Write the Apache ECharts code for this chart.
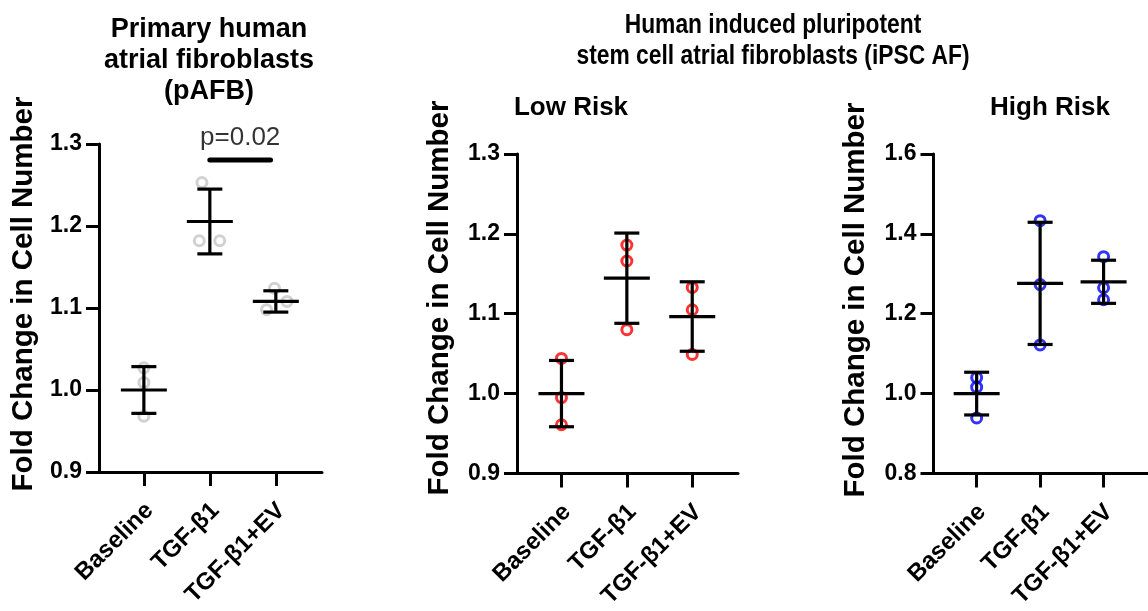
<!DOCTYPE html>
<html>
<head>
<meta charset="utf-8">
<script src="https://cdn.jsdelivr.net/npm/echarts@6/dist/echarts.min.js"></script>
<style>
  html, body { margin: 0; padding: 0; background: #fff; }
  #main { width: 1148px; height: 611px; }
</style>
</head>
<body>
<div id="main"></div>
<script>
const categories = ['Baseline', 'TGF-β1', 'TGF-β1+EV'];

// primary human atrial fibroblasts (pAFB)
const pafbPoints = [[1.027, 1.009, 0.968], [1.253, 1.182, 1.182], [1.124, 1.108, 1.098]];
const pafbJitter = [[0, 0, 0], [-0.12, -0.16, 0.15], [-0.02, 0.17, -0.14]];
const pafbMean = [1.0, 1.2055, 1.108];
const pafbSd = [0.0285, 0.0395, 0.013];
const pafbTicks = [0.9, 1.0, 1.1, 1.2, 1.3];

// iPSC AF low risk
const lowPoints = [[1.044, 0.995, 0.961], [1.186, 1.166, 1.080], [1.133, 1.105, 1.049]];
const lowMean = [1.0, 1.1445, 1.0965];
const lowSd = [0.0415, 0.0565, 0.0435];
const lowTicks = [0.9, 1.0, 1.1, 1.2, 1.3];

// iPSC AF high risk
const highPoints = [[1.040, 1.016, 0.939], [1.433, 1.273, 1.122], [1.343, 1.265, 1.235]];
const highMean = [1.0, 1.276, 1.28];
const highSd = [0.0535, 0.153, 0.054];
const highTicks = [0.8, 1.0, 1.2, 1.4, 1.6];

// significance bar pAFB: TGF-b1 vs TGF-b1+EV
const sigFrom = 2;
const sigTo = 2.92;
const sigY = 1.2805;
const sigText = 'p=0.02';

const FONT = '"Liberation Sans", Arial, Helvetica, sans-serif';

const panels = [
  { points: pafbPoints, jitter: pafbJitter, mean: pafbMean, sd: pafbSd, ticks: pafbTicks,
    color: '#c6c6c6', grid: { left: 99, top: 144, width: 223, height: 328 } },
  { points: lowPoints, jitter: null, mean: lowMean, sd: lowSd, ticks: lowTicks,
    color: '#ff0000', grid: { left: 517, top: 154, width: 221, height: 330 } },
  { points: highPoints, jitter: null, mean: highMean, sd: highSd, ticks: highTicks,
    color: '#0000ff', grid: { left: 933.5, top: 154, width: 223, height: 330 } }
];

function errorBarItem(params, api) {
  const x = api.value(0), m = api.value(1), s = api.value(2);
  const c = api.coord([x, m]);
  const hi = api.coord([x, m + s]);
  const lo = api.coord([x, m - s]);
  const st = { stroke: '#000', lineWidth: 3.2 };
  return {
    type: 'group',
    children: [
      { type: 'line', shape: { x1: c[0], y1: hi[1], x2: c[0], y2: lo[1] }, style: st },
      { type: 'line', shape: { x1: c[0] - 12.5, y1: hi[1], x2: c[0] + 12.5, y2: hi[1] }, style: st },
      { type: 'line', shape: { x1: c[0] - 12.5, y1: lo[1], x2: c[0] + 12.5, y2: lo[1] }, style: st },
      { type: 'line', shape: { x1: c[0] - 23, y1: c[1], x2: c[0] + 23, y2: c[1] }, style: st }
    ]
  };
}

const grids = [], xAxes = [], yAxes = [], series = [];

panels.forEach((p, k) => {
  grids.push(p.grid);
  xAxes.push({
    gridIndex: k, type: 'value', min: 0.32, max: 3.7,
    splitLine: { show: false },
    axisLine: { onZero: false, lineStyle: { color: '#000', width: 3 } },
    axisTick: { customValues: [1, 2, 3], length: 14, lineStyle: { color: '#000', width: 3 } },
    axisLabel: {
      customValues: [1.085, 2.085, 3.085],
      formatter: v => categories[Math.round(v) - 1],
      rotate: 45, margin: 35, color: '#000',
      fontFamily: FONT, fontWeight: 'bold', fontSize: 24
    }
  });
  const t = p.ticks;
  yAxes.push({
    gridIndex: k, type: 'value', min: t[0], max: t[t.length - 1], interval: t[1] - t[0],
    splitLine: { show: false },
    axisLine: { show: true, onZero: false, lineStyle: { color: '#000', width: 3 } },
    axisTick: { show: true, length: 13, lineStyle: { color: '#000', width: 3 } },
    axisLabel: {
      formatter: v => v.toFixed(1), margin: 17, color: '#000',
      fontFamily: FONT, fontWeight: 'bold', fontSize: 23
    }
  });
  const pts = [];
  p.points.forEach((vals, i) => {
    vals.forEach((v, j) => {
      const dx = p.jitter ? p.jitter[i][j] : 0;
      pts.push([i + 1 + dx, v]);
    });
  });
  series.push({
    type: 'scatter', xAxisIndex: k, yAxisIndex: k, data: pts,
    symbol: 'circle', symbolSize: 10, z: 2, silent: true,
    itemStyle: { color: 'rgba(255,255,255,0)', borderColor: p.color, borderWidth: 3 }
  });
  series.push({
    type: 'custom', xAxisIndex: k, yAxisIndex: k, z: 3, silent: true,
    data: p.mean.map((m, i) => [i + 1, m, p.sd[i]]),
    renderItem: errorBarItem
  });
});

series.push({
  type: 'line', xAxisIndex: 0, yAxisIndex: 0, z: 3, silent: true,
  data: [[sigFrom, sigY], [sigTo, sigY]], symbol: 'none',
  lineStyle: { color: '#000', width: 5, cap: 'round' }
});
series.push({
  type: 'scatter', xAxisIndex: 0, yAxisIndex: 0, silent: true,
  data: [[(sigFrom + sigTo) / 2, sigY]], symbolSize: 0,
  label: { show: true, position: 'top', distance: 9, formatter: sigText,
    color: '#000', fontFamily: FONT, fontSize: 26 }
});

function txt(x, y, text, size, extra) {
  return Object.assign({
    type: 'text', x: x, y: y, silent: true,
    style: { text: text, fill: '#000', fontFamily: FONT, fontWeight: 'bold', fontSize: size,
      align: 'center', verticalAlign: 'top', lineHeight: 31 }
  }, extra || {});
}

function yTitle(x, y) {
  return {
    type: 'text', x: x, y: y, rotation: Math.PI / 2, silent: true,
    style: { text: 'Fold Change in Cell Number', fill: '#000', fontFamily: FONT,
      fontWeight: 'bold', fontSize: 29.5, align: 'center', verticalAlign: 'middle' }
  };
}

const chart = echarts.init(document.getElementById('main'), null, { renderer: 'canvas' });
chart.setOption({
  animation: false,
  backgroundColor: '#fff',
  grid: grids,
  xAxis: xAxes,
  yAxis: yAxes,
  series: series,
  graphic: [
    txt(209, 14, 'Primary human\natrial fibroblasts\n(pAFB)', 27),
    txt(773, 10, 'Human induced pluripotent\nstem cell atrial fibroblasts (iPSC AF)', 27, { scaleX: 0.845 }),
    txt(571, 92, 'Low Risk', 26),
    txt(1050, 92, 'High Risk', 26),
    yTitle(24, 294),
    yTitle(440, 298),
    yTitle(856, 300)
  ]
});
</script>
</body>
</html>
